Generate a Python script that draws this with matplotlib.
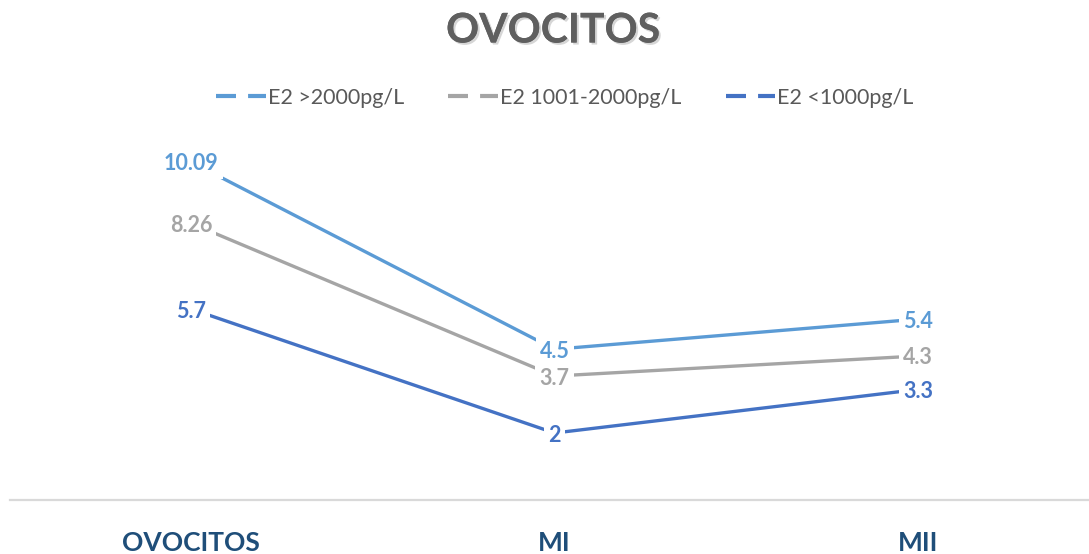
import matplotlib
matplotlib.use("Agg")
import matplotlib.pyplot as plt
import matplotlib.patheffects as pe
from matplotlib.lines import Line2D

plt.rcParams["font.family"] = ["Lato", "DejaVu Sans"]

categories = ["OVOCITOS", "MI", "MII"]
series_names = ["E2 >2000pg/L", "E2 1001-2000pg/L", "E2 <1000pg/L"]
high_e2 = [10.09, 4.5, 5.4]
mid_e2 = [8.26, 3.7, 4.3]
low_e2 = [5.7, 2, 3.3]
value_labels = [["10.09", "4.5", "5.4"], ["8.26", "3.7", "4.3"], ["5.7", "2", "3.3"]]

colors = ["#5B9BD5", "#A5A5A5", "#4472C4"]

fig = plt.figure(figsize=(10.89, 5.54), dpi=100)
ax = fig.add_axes([10 / 1089, 54 / 554, 1079 / 1089, 402 / 554])

x = list(range(len(categories)))
for vals, labels, color in zip([high_e2, mid_e2, low_e2], value_labels, colors):
    ax.plot(x, vals, color=color, linewidth=2.4, solid_capstyle="butt", zorder=2)
    for xi, v, lab in zip(x, vals, labels):
        ax.text(xi, v, lab, ha="center", va="center_baseline", fontsize=15.5,
                fontweight="bold", color=color, zorder=3,
                bbox=dict(facecolor="white", edgecolor="none", pad=3))

ax.set_xlim(-0.498, 2.47)
ax.set_ylim(0, 12)
ax.set_xticks(x)
ax.set_xticklabels(categories, fontsize=19, fontweight="bold", color="#1F4E79")
ax.tick_params(axis="x", length=0, pad=22)
ax.set_yticks([])
for side in ["top", "right", "left"]:
    ax.spines[side].set_visible(False)
ax.spines["bottom"].set_color("#D9D9D9")
ax.spines["bottom"].set_linewidth(1.6)

fig.text(553 / 1089, 1 - 31 / 554, "OVOCITOS", ha="center", va="center",
         fontsize=29.5, fontweight="bold", color="#5F5F5F",
         path_effects=[pe.withSimplePatchShadow(offset=(1.5, -1.5), shadow_rgbFace="#BBBBBB", alpha=0.6),
                       pe.Normal()])

# legend keys drawn as two short dashes
handles = [Line2D([], [], color=c, linewidth=3, linestyle=(0, (4.8, 2.9))) for c in colors]
fig.legend(handles, series_names, loc="center", bbox_to_anchor=(565 / 1089, 1 - 98 / 554),
           ncol=3, frameon=False, fontsize=15.5, labelcolor="#595959",
           handlelength=2.3, handletextpad=0.1, columnspacing=2.05)

fig.savefig("out.png", dpi=100, facecolor="white")
